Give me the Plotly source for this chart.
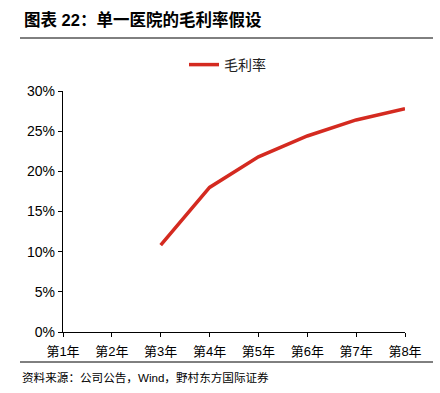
import plotly.graph_objects as go

categories = ["第1年", "第2年", "第3年", "第4年", "第5年", "第6年", "第7年", "第8年"]
margin_values = [None, None, 0.108, 0.180, 0.218, 0.244, 0.264, 0.278]
y_ticks = [0, 0.05, 0.10, 0.15, 0.20, 0.25, 0.30]
y_tick_labels = ["0%", "5%", "10%", "15%", "20%", "25%", "30%"]

x_idx = list(range(len(categories)))

fig = go.Figure()
fig.add_trace(go.Scatter(
    x=x_idx, y=margin_values, mode="lines", name="毛利率",
    line=dict(color="#d42a20", width=3.5), connectgaps=False,
))

W, H = 440, 393
L, R, T, B = 63, 35, 91, 61
PW, PH = W - L - R, H - T - B

fig.update_layout(
    width=W, height=H,
    margin=dict(l=L, r=R, t=T, b=B),
    paper_bgcolor="white", plot_bgcolor="white",
    font=dict(family="Liberation Sans, Noto Sans CJK SC, sans-serif", color="#000000"),
    showlegend=True,
    legend=dict(orientation="h", x=(190 - 6 - L) / PW, xanchor="left", y=1 + (T - 65) / PH, yanchor="middle",
                font=dict(size=14, family="Noto Sans CJK SC", color="#222222"), itemwidth=30),
    xaxis=dict(
        range=[0, 7], tickmode="array", tickvals=x_idx, ticktext=categories,
        showline=True, linecolor="#000000", linewidth=1.3,
        ticks="outside", ticklen=4, tickcolor="#000000",
        showgrid=False, zeroline=False, ticklabelstandoff=3,
        tickfont=dict(size=13, family="Liberation Sans, Noto Sans CJK SC"),
    ),
    yaxis=dict(
        range=[0, 0.30], tickmode="array", tickvals=y_ticks, ticktext=y_tick_labels,
        showline=True, linecolor="#000000", linewidth=1.3,
        ticks="outside", ticklen=4, tickcolor="#000000",
        showgrid=False, zeroline=False,
        tickfont=dict(size=14, family="Liberation Sans"),
    ),
)

fig.add_annotation(
    xref="paper", yref="paper", x=(22 - L) / PW, y=1 + (T - 20) / PH,
    xanchor="left", yanchor="middle", showarrow=False,
    text="<b>图表 22：单一医院的毛利率假设</b>",
    font=dict(size=16.5, family="Liberation Sans, Noto Sans CJK SC", color="#000000"),
)
fig.add_annotation(
    xref="paper", yref="paper", x=(20 - L) / PW, y=-(377 - 332) / PH,
    xanchor="left", yanchor="middle", showarrow=False,
    text="资料来源：公司公告，Wind，野村东方国际证券",
    font=dict(size=11.6, family="Liberation Sans, Noto Sans CJK SC", color="#000000"),
)
fig.add_shape(type="line", xref="paper", yref="paper",
              x0=(20 - L) / PW, x1=(433 - L) / PW,
              y0=1 + (T - 38) / PH, y1=1 + (T - 38) / PH,
              line=dict(color="#000000", width=1))
fig.add_shape(type="line", xref="paper", yref="paper",
              x0=(20 - L) / PW, x1=(433 - L) / PW,
              y0=-(362 - 332) / PH, y1=-(362 - 332) / PH,
              line=dict(color="#000000", width=1))

fig.write_html("out.html", config={"displayModeBar": False},
               post_script="document.body.style.margin='0';document.body.style.padding='0';")
